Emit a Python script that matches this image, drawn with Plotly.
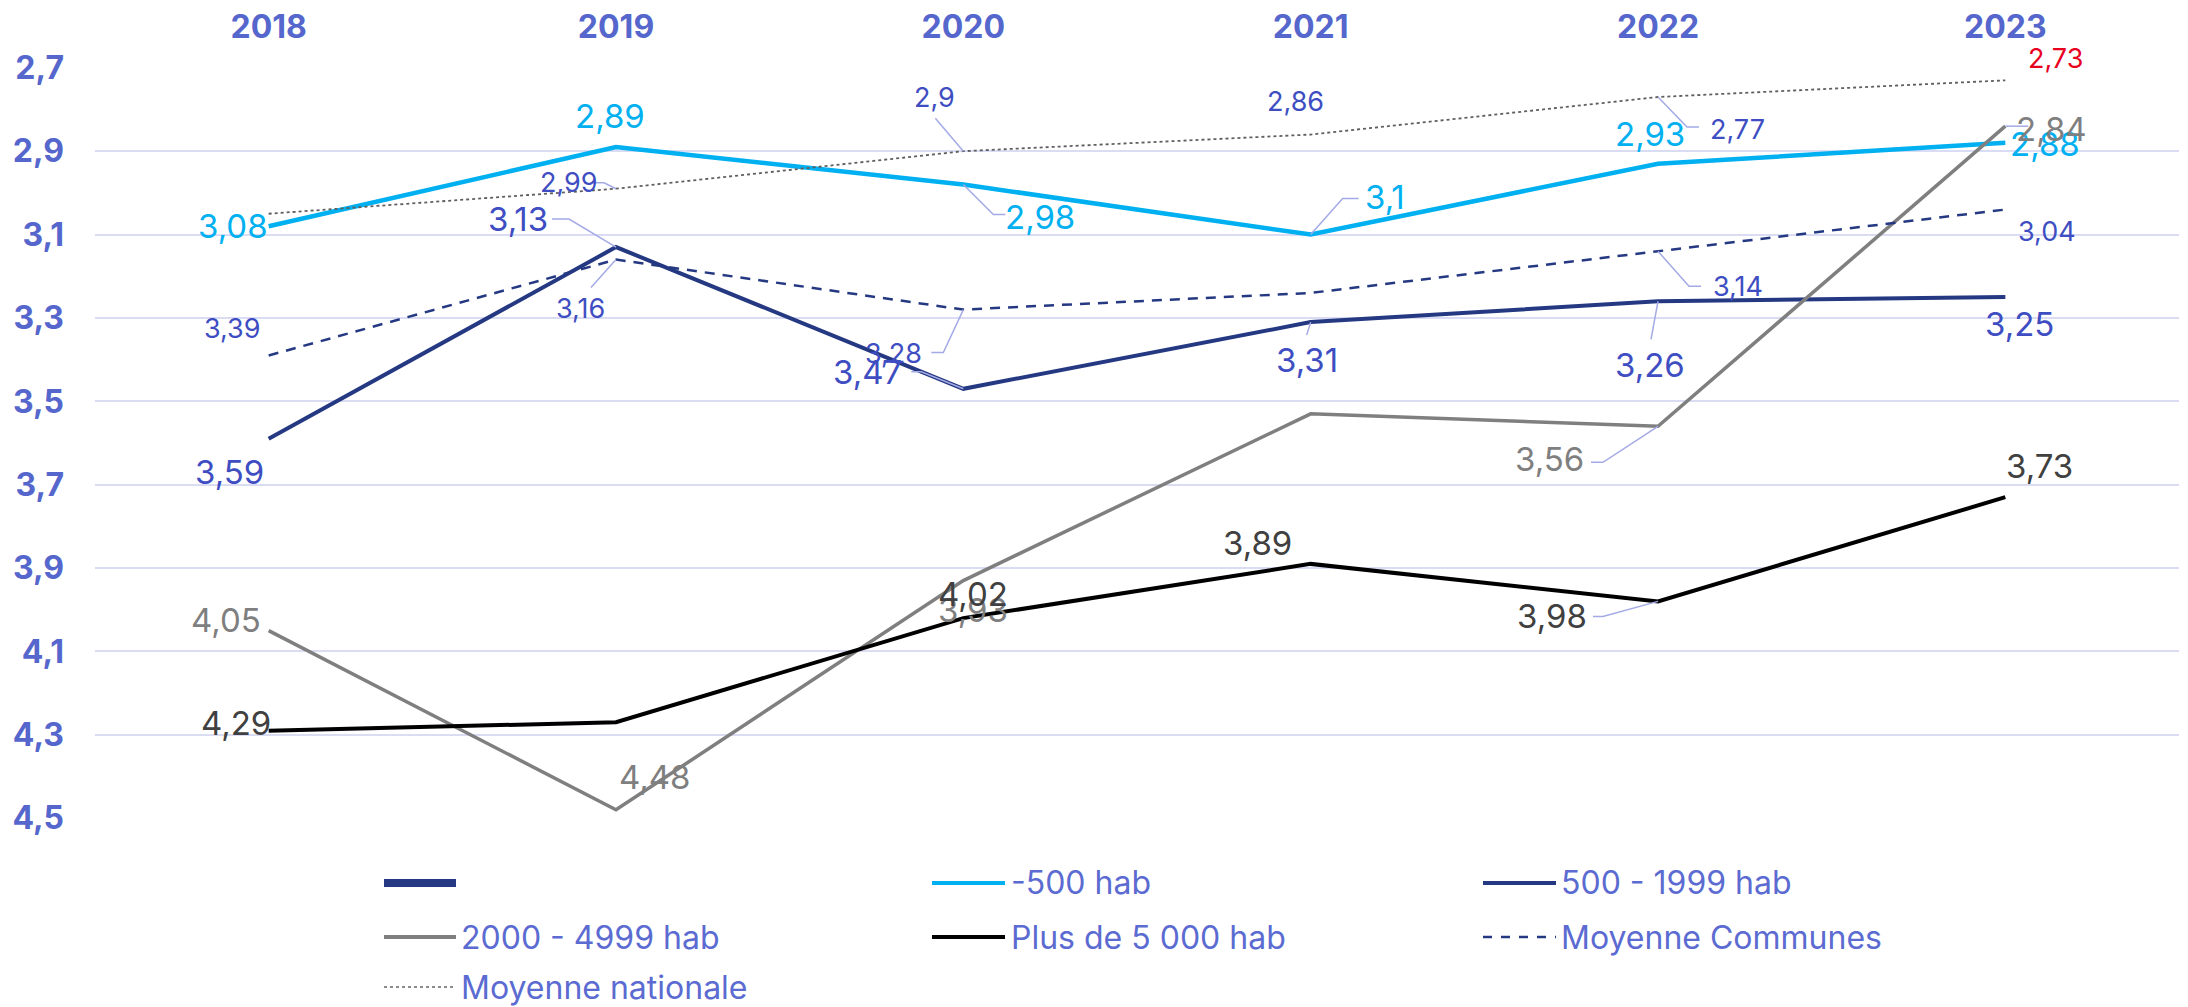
import plotly.graph_objects as go

# ---------------- data ----------------
years = [2018, 2019, 2020, 2021, 2022, 2023]
moins_500 = [3.08, 2.89, 2.98, 3.10, 2.93, 2.88]
de_500_1999 = [3.59, 3.13, 3.47, 3.31, 3.26, 3.25]
de_2000_4999 = [4.05, 4.48, 3.93, 3.53, 3.56, 2.84]
plus_5000 = [4.29, 4.27, 4.02, 3.89, 3.98, 3.73]
moy_communes = [3.39, 3.16, 3.28, 3.24, 3.14, 3.04]
moy_nationale = [3.05, 2.99, 2.90, 2.86, 2.77, 2.73]
y_ticks = [2.7, 2.9, 3.1, 3.3, 3.5, 3.7, 3.9, 4.1, 4.3, 4.5]
legend_names = ["", "-500 hab", "500 - 1999 hab", "2000 - 4999 hab",
                "Plus de 5 000 hab", "Moyenne Communes", "Moyenne nationale"]

# ---------------- layout constants ----------------
OFF = 8                      # page body margin
W, H = 2188 - OFF, 1007 - OFF
PLOT_L, PLOT_R, PLOT_T, PLOT_B = 95, 2179, 67, 819   # page pixels
ML, MR = PLOT_L - OFF, W - (PLOT_R - OFF)
MT, MB = PLOT_T - OFF, H - (PLOT_B - OFF)
FONT = "Inter"
TICK_COLOR = "#5566CC"
LABEL_BLUE = "#3E4EC2"
LEADER = "#A3AAE6"
GRID = "#D9DCF3"

def fmt(v):
    return ("%g" % v).replace(".", ",")

# series: (name, values, line color, width, dash, label color, label size,
#          per-point label style: None or (dx, dy, leader path in screen px))
series = [
    ("-500 hab", moins_500, "#00B0F0", 4.5, "solid", "#00B0F0", 33,
     [(-36, 0, None), (-6, -31, None), (77, 32, [(0, 0), (30, 30), (42, 30)]),
      (74, -38, [(0, 0), (32, -36), (48, -36)]), (-8, -30, None), (40, 1, None)]),
    ("500 - 1999 hab", de_500_1999, "#253882", 4, "solid", LABEL_BLUE, 33,
     [(-39, 33, None), (-98, -28, [(0, 0), (-47, -28), (-64, -28)]),
      (-96, -17, [(0, 0), (-42, -17), (-52, -17)]),
      (-4, 38, [(0, 0), (-4, 13)]), (-8, 64, [(0, 0), (-7, 38)]), (14, 27, None)]),
    ("2000 - 4999 hab", de_2000_4999, "#7F7F7F", 3.5, "solid", "#7F7F7F", 33,
     [(-43, -11, None), (38, -33, None), (10, 29, None), None,
      (-109, 33, [(0, 0), (-55, 36), (-67, 36)]), (46, 3, [(0, 0), (23, 0)])]),
    ("Plus de 5 000 hab", plus_5000, "#000000", 4, "solid", "#404040", 33,
     [(-33, -8, None), None, (10, -24, None), (-53, -21, None),
      (-106, 15, [(0, 0), (-55, 15), (-65, 15)]), (34, -31, None)]),
    ("Moyenne Communes", moy_communes, "#253882", 2.5, "10px,8px", LABEL_BLUE, 27,
     [(-36, -27, None), (-36, 49, [(0, 0), (-25, 28)]),
      (-70, 44, [(0, 0), (-20, 43), (-32, 43)]), None,
      (80, 35, [(0, 0), (31, 35), (43, 35)]), (42, 22, None)]),
    ("Moyenne nationale", moy_nationale, "#5F5F5F", 1.8, "dot", LABEL_BLUE, 27,
     [None, (-47, -6, [(0, 0), (-12, -6), (-24, -6)]),
      (-29, -54, [(0, 0), (-28, -33)]), (-15, -33, None),
      (79, 32, [(0, 0), (29, 30), (41, 30)]), (50, -22, None)]),
]

fig = go.Figure()
annotations = []
shapes = []

for name, vals, color, width, dash, lcol, lsize, styles in series:
    fig.add_trace(go.Scatter(x=years, y=vals, mode="lines", name=name,
                             line=dict(color=color, width=width, dash=dash),
                             showlegend=False, hoverinfo="skip"))
    for i, st in enumerate(styles):
        if st is None:
            continue
        dx, dy, path = st
        col = lcol
        if name == "Moyenne nationale" and i == len(years) - 1:
            col = "#E8001E"
        annotations.append(dict(x=years[i], y=vals[i], xref="x", yref="y",
                                text=fmt(vals[i]), showarrow=False,
                                xshift=dx, yshift=-dy,
                                font=dict(family=FONT, size=lsize, color=col)))
        if path:
            d = "M" + " L".join("%g,%g" % (px_, -py_) for px_, py_ in path)
            shapes.append(dict(type="path", xref="x", yref="y",
                               xsizemode="pixel", ysizemode="pixel",
                               xanchor=years[i], yanchor=vals[i], path=d,
                               line=dict(color=LEADER, width=1.5), layer="above"))

# ---------------- manual legend (page pixel positions) ----------------
PW, PH = W - ML - MR, H - MT - MB
def px(xp):
    return (xp - OFF - ML) / PW
def py(yp):
    return (H - MB - (yp - OFF)) / PH

leg_rows = [883, 937, 987]
leg_cols = [(384, 456, 459), (932, 1005, 1009), (1483, 1556, 1559)]
leg_styles = [("#253882", 8, "solid"), ("#00B0F0", 4, "solid"), ("#253882", 4, "solid"),
              ("#7F7F7F", 4, "solid"), ("#000000", 4, "solid"), ("#253882", 2.5, "dash"),
              ("#666666", 1.5, "dot")]
for k, lname in enumerate(legend_names):
    r, c = divmod(k, 3)
    x0, x1, xt = leg_cols[c]
    yy = leg_rows[r]
    col, wdt, dsh = leg_styles[k]
    shapes.append(dict(type="line", xref="paper", yref="paper",
                       x0=px(x0), x1=px(x1), y0=py(yy), y1=py(yy),
                       line=dict(color=col, width=wdt, dash=dsh)))
    if lname:
        annotations.append(dict(x=px(xt), y=py(yy), xref="paper", yref="paper",
                                text=lname, showarrow=False, xanchor="left",
                                yanchor="middle",
                                font=dict(family=FONT, size=32, color="#5B6BD1")))

fig.update_layout(
    width=W, height=H,
    margin=dict(l=ML, r=MR, t=MT, b=MB, autoexpand=False),
    plot_bgcolor="white", paper_bgcolor="white",
    separators=", ",
    showlegend=False,
    annotations=annotations,
    shapes=shapes,
    xaxis=dict(range=[2017.5, 2023.5], side="top", tickvals=years,
               ticktext=[str(y) for y in years], showgrid=False, zeroline=False,
               showline=False, ticks="", ticklabelstandoff=22, automargin=False,
               tickfont=dict(family=FONT, size=32, color=TICK_COLOR, weight="bold")),
    yaxis=dict(range=[4.502, 2.698], tickvals=y_ticks, tickformat=".1f",
               showgrid=True, gridcolor=GRID, gridwidth=2, zeroline=False,
               showline=False, ticks="", ticklabelstandoff=30, automargin=False,
               tickfont=dict(family=FONT, size=32, color=TICK_COLOR, weight="bold")),
)

fig.write_html("out.html")
